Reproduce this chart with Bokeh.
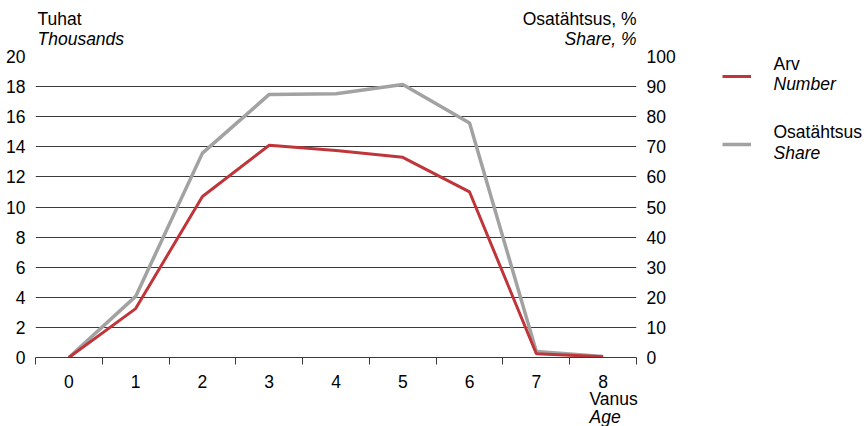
from bokeh.plotting import figure
from bokeh.models import (Range1d, LinearAxis, FixedTicker, Label, Legend, LegendItem)
from bokeh.layouts import column, row
from bokeh.embed import file_html
from bokeh.resources import INLINE

# ---- data ----
ages = [0, 1, 2, 3, 4, 5, 6, 7, 8]
age_labels = ["0", "1", "2", "3", "4", "5", "6", "7", "8"]
number_thousands = [0.0, 3.25, 10.7, 14.1, 13.75, 13.3, 11.0, 0.25, 0.05]
share_pct = [0.0, 20.3, 67.9, 87.4, 87.6, 90.7, 77.9, 2.0, 0.3]
left_ticks = [0, 2, 4, 6, 8, 10, 12, 14, 16, 18, 20]
right_ticks = [0, 10, 20, 30, 40, 50, 60, 70, 80, 90, 100]
series_names = ["Arv", "Osatähtsus"]
series_names_en = ["Number", "Share"]

RED = "#C0353A"
GRAY = "#A2A2A2"
GRID = "#3a3a3a"
FONT = "Liberation Sans"
FS = "17.5px"
W = 865


def blank(width, height, top=0, bottom=0):
    f = figure(width=width, height=height, output_backend="svg", toolbar_location=None,
               x_axis_type=None, y_axis_type=None,
               x_range=Range1d(0, width), y_range=Range1d(0, height),
               min_border=0, min_border_left=0, min_border_right=0,
               min_border_top=top, min_border_bottom=bottom)
    f.outline_line_color = None
    f.grid.grid_line_color = None
    f.background_fill_color = "white"
    f.border_fill_color = "white"
    return f


def lab(f, text, x, y, italic=False, align="left"):
    f.add_layout(Label(text=text, x=x, y=y, x_units="screen", y_units="screen",
                       text_font=FONT, text_font_size=FS,
                       text_font_style="italic" if italic else "normal",
                       text_align=align, text_baseline="alphabetic",
                       text_color="black"))


# ---- header with axis titles ----
top = blank(W, 48)
lab(top, "Tuhat", 37, 29.5)
lab(top, "Thousands", 37, 9.5, italic=True)
lab(top, "Osatähtsus, %", 636, 29.5, align="right")
lab(top, "Share, %", 636, 9.5, italic=True, align="right")

# ---- main chart ----
p = figure(width=700, height=342, output_backend="svg", toolbar_location=None,
           x_range=Range1d(-0.5, 8.5), y_range=Range1d(0, 20),
           min_border_left=35, min_border_right=64, min_border_top=8, min_border_bottom=33)
p.outline_line_color = None
p.background_fill_color = "white"
p.border_fill_color = "white"
p.extra_y_ranges = {"share": Range1d(0, 100)}

p.xgrid.grid_line_color = None
p.ygrid.ticker = FixedTicker(ticks=left_ticks)
p.ygrid.grid_line_color = GRID
p.ygrid.grid_line_width = 1

xa = p.xaxis[0]
xa.ticker = FixedTicker(ticks=ages, minor_ticks=[a - 0.5 for a in ages] + [ages[-1] + 0.5])
xa.major_label_overrides = {a: l for a, l in zip(ages, age_labels)}
xa.major_tick_line_color = None
xa.major_tick_out = 0
xa.major_tick_in = 0
xa.minor_tick_line_color = GRID
xa.minor_tick_in = 0
xa.minor_tick_out = 7
xa.axis_line_color = GRID
xa.major_label_standoff = 10
xa.major_label_text_font = FONT
xa.major_label_text_font_size = FS
xa.major_label_text_color = "black"

ya = p.yaxis[0]
ya.ticker = FixedTicker(ticks=left_ticks)
ya.axis_line_color = None
ya.major_tick_line_color = None
ya.major_tick_out = 0
ya.major_tick_in = 0
ya.minor_tick_line_color = None
ya.major_label_standoff = 10
ya.major_label_text_font = FONT
ya.major_label_text_font_size = FS
ya.major_label_text_color = "black"

ra = LinearAxis(y_range_name="share", ticker=FixedTicker(ticks=right_ticks))
ra.axis_line_color = None
ra.major_tick_line_color = None
ra.major_tick_out = 0
ra.major_tick_in = 0
ra.minor_tick_line_color = None
ra.major_label_standoff = 10
ra.major_label_text_font = FONT
ra.major_label_text_font_size = FS
ra.major_label_text_color = "black"
p.add_layout(ra, "right")

p.line(ages, share_pct, y_range_name="share", line_color=GRAY, line_width=3.5)
p.line(ages, number_thousands, line_color=RED, line_width=3)

# ---- legend panel (frame aligned with the chart frame) ----
lf = blank(W - 700, 342, top=8, bottom=33)
nan = float("nan")
l_num = lf.line(x=[nan], y=[nan], line_color=RED, line_width=3)
l_share = lf.line(x=[nan], y=[nan], line_color=GRAY, line_width=3.5)
leg = Legend(items=[LegendItem(label=series_names[0], renderers=[l_num]),
                    LegendItem(label=series_names[1], renderers=[l_share])],
             location=(22, 203), orientation="vertical",
             glyph_width=29, glyph_height=20, label_height=20, spacing=48,
             padding=0, margin=0, border_line_color=None, background_fill_alpha=0,
             label_text_font_size="1px", label_text_alpha=0, label_standoff=0)
lf.add_layout(leg, "center")
lab(lf, series_names[0], 73, 294)
lab(lf, series_names_en[0], 73, 273.5, italic=True)
lab(lf, series_names[1], 73, 225.5)
lab(lf, series_names_en[1], 73, 204.5, italic=True)

# ---- footer with x-axis title ----
bottom = blank(W, 36)
lab(bottom, "Vanus", 589, 27.5)
lab(bottom, "Age", 589, 9.5, italic=True)

layout = column(top, row(p, lf), bottom)
open("out.html", "w").write(file_html(layout, INLINE))
